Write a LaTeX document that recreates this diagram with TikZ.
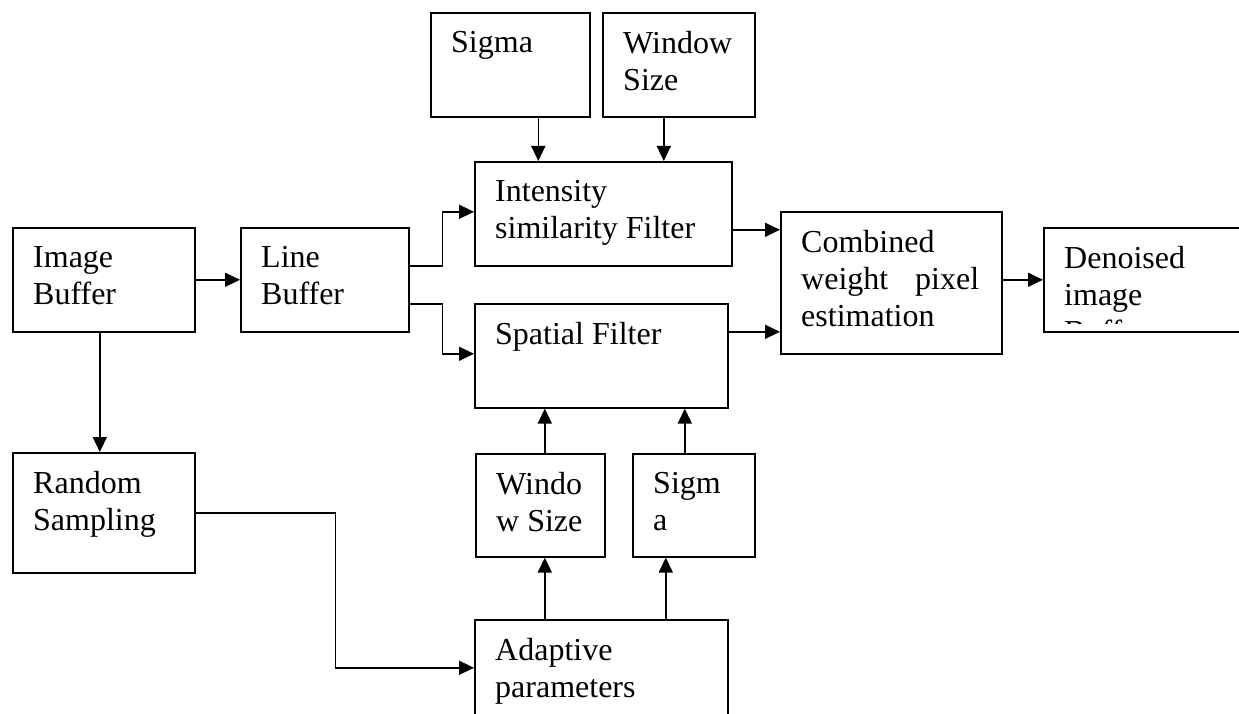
\documentclass[tikz,border=0pt]{standalone}
\usepackage{fontspec}
\setmainfont{Liberation Serif}
\usetikzlibrary{arrows.meta}

\tikzset{
	blk/.style={draw, line width=1.6pt, anchor=north west, inner sep=0pt},
	txt/.style={anchor=north west, align=left, inner sep=0pt, xshift=21pt, yshift=-19pt, font=\fontsize{32}{37}\selectfont},
	arr/.style={-{Triangle[length=15pt,width=14pt]}, line width=1.6pt},
}

\begin{document}
\begin{tikzpicture}[x=1pt,y=-1pt]
		\useasboundingbox (0,0) rectangle (1239,714);
		\clip (0,0) rectangle (1239,714);
		
		\node[blk, minimum width=182pt, minimum height=104pt, label={[txt]north west:{Image\\Buffer}}] (img) at (12,227) {};
		\node[blk, minimum width=168pt, minimum height=104pt, label={[txt]north west:{Line\\Buffer}}] (line) at (240,227) {};
		\node[blk, minimum width=159pt, minimum height=104pt, label={[txt]north west:{Sigma}}] (sigt) at (430,12) {};
		\node[blk, minimum width=152pt, minimum height=104pt, label={[txt]north west:{Window\\Size}}] (wint) at (602,12) {};
		\node[blk, minimum width=257pt, minimum height=104pt, label={[txt]north west:{Intensity\\similarity Filter}}] (ints) at (474,161) {};
		\node[blk, minimum width=253pt, minimum height=104pt, label={[txt]north west:{Spatial Filter}}] (spat) at (474,303) {};
		\node[blk, minimum width=221pt, minimum height=142pt, label={[txt]north west:{Combined\\\makebox[178pt][s]{weight\hfill pixel}\\estimation}}] (comb) at (780,211) {};
		\node[blk, minimum width=230pt, minimum height=104pt] (den) at (1043,227) {};
		\node[blk, minimum width=182pt, minimum height=120pt, label={[txt]north west:{Random\\Sampling}}] (rand) at (12,452) {};
		\node[blk, minimum width=129pt, minimum height=103pt, label={[txt]north west:{Windo\\w Size}}] (wsb) at (475,453) {};
		\node[blk, minimum width=122pt, minimum height=103pt, label={[txt]north west:{Sigm\\a}}] (sgb) at (632,453) {};
		\node[blk, minimum width=253pt, minimum height=120pt, label={[txt]north west:{Adaptive\\parameters}}] (adp) at (474,619) {};
		
		% text of the last block is cut off by its frame
		\begin{scope}
			\clip (den.north west) rectangle ([yshift=9pt]den.south east);
			\node[txt] (dentxt) at (den.north west) {Denoised\\image\\Buffer};
		\end{scope}
		
		\draw[arr] (img.east) -- (line.west);
		\draw[arr] ([yshift=14pt]line.east) -- ++(33,0) |- ([yshift=2pt]ints.west);
		\draw[arr] ([yshift=-24pt]line.east) -- ++(33,0) |- ([yshift=2pt]spat.west);
		\draw[arr] ([xshift=28pt]sigt.south) -- ([xshift=28pt]sigt.south |- ints.north);
		\draw[arr] ([xshift=-15pt]wint.south) -- ([xshift=-15pt]wint.south |- ints.north);
		\draw[arr] ([yshift=-16pt]ints.east) -- ([yshift=-16pt]ints.east -| comb.west);
		\draw[arr] ([yshift=24pt]spat.east) -- ([yshift=24pt]spat.east -| comb.west);
		\draw[arr] (comb.east |- den.west) -- (den.west);
		\draw[arr] ([xshift=-4pt]img.south) -- ([xshift=-4pt]img.south |- rand.north);
		\draw[arr] (rand.east) -- ++(140,0) |- ([yshift=12pt]adp.west);
		\draw[arr] ([xshift=4.5pt]wsb.north) -- ([xshift=4.5pt]wsb.north |- spat.south);
		\draw[arr] ([xshift=-9pt]sgb.north) -- ([xshift=-9pt]sgb.north |- spat.south);
		\draw[arr] ([xshift=4.5pt]wsb.south |- adp.north) -- ([xshift=4.5pt]wsb.south);
		\draw[arr] ([xshift=-28pt]sgb.south |- adp.north) -- ([xshift=-28pt]sgb.south);
\end{tikzpicture}
\end{document}
